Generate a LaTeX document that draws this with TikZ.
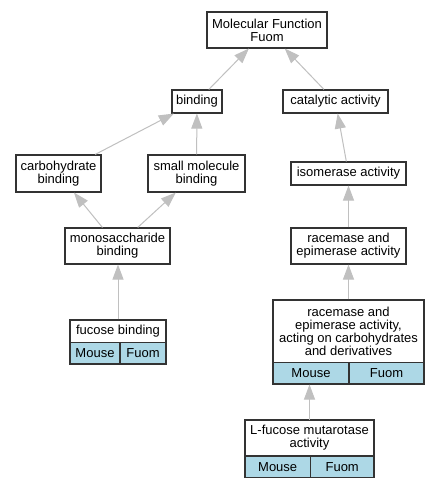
\documentclass[tikz,border=0pt]{standalone}
\usepackage{fontspec}
\setmainfont{Liberation Sans}
\usetikzlibrary{arrows.meta}
\definecolor{lblue}{HTML}{ADD8E6}
\definecolor{edgegray}{HTML}{C0C0C0}
\begin{document}
\begin{tikzpicture}[x=1pt,y=-1pt,
 box/.style={draw=black!80, line width=1.1pt, fill=white, inner sep=0pt, align=center, font=\fontsize{13}{13.2}\selectfont},
 cell/.style={box, fill=lblue},
 frame/.style={draw=black!80, line width=1.1pt, inner sep=0pt},
 edge/.style={draw=edgegray, line width=1pt, -{Triangle[length=15pt,width=11pt]}}]
\useasboundingbox[fill=white] (0,0) rectangle (439,488);
\node[box, minimum width=120pt, minimum height=36pt] (mf) at (267,30) {Molecular Function\\Fuom};
\node[box, minimum width=50pt, minimum height=23pt] (bind) at (197,101.5) {binding};
\node[box, minimum width=105pt, minimum height=23pt] (cat) at (335.5,101.5) {catalytic activity};
\node[box, minimum width=85pt, minimum height=37pt] (carb) at (58.5,173.5) {carbohydrate\\binding};
\node[box, minimum width=97pt, minimum height=37pt] (smb) at (196.5,173.5) {small molecule\\binding};
\node[box, minimum width=115pt, minimum height=23pt] (iso) at (348.5,173.5) {isomerase activity};
\node[box, minimum width=105pt, minimum height=36pt] (mono) at (117.5,246) {monosaccharide\\binding};
\node[box, minimum width=115pt, minimum height=36pt] (rac) at (348.5,246) {racemase and\\epimerase activity};
% fucose binding
\node[box, minimum width=96pt, minimum height=22.3pt] (fbt) at (118,331.2) {fucose binding};
\node[cell, minimum width=50pt, minimum height=21.7pt] (fbm) at (95,353.2) {Mouse};
\node[cell, minimum width=46pt, minimum height=21.7pt] (fbf) at (143,353.2) {Fuom};
\node[frame, minimum width=96pt, minimum height=44pt] (fb) at (118,342) {};
% racemase carbohydrates
\node[box, minimum width=151pt, minimum height=62.7pt] (rct) at (348.5,331.4) {racemase and\\epimerase activity,\\acting on carbohydrates\\and derivatives};
\node[cell, minimum width=76pt, minimum height=21.3pt] (rcm) at (311,373.3) {Mouse};
\node[cell, minimum width=75pt, minimum height=21.3pt] (rcf) at (386.5,373.3) {Fuom};
\node[frame, minimum width=151pt, minimum height=84pt] (rc) at (348.5,342) {};
% L-fucose mutarotase
\node[box, minimum width=129pt, minimum height=36pt] (lft) at (309.5,438) {L-fucose mutarotase\\activity};
\node[cell, minimum width=65.3pt, minimum height=21.3pt] (lfm) at (277.7,466.7) {Mouse};
\node[cell, minimum width=63.7pt, minimum height=21.3pt] (lff) at (342.2,466.7) {Fuom};
\node[frame, minimum width=129pt, minimum height=57.3pt] (lf) at (309.5,448.7) {};
% edges
\draw[edge] (bind) -- (mf);
\draw[edge] (cat) -- (mf);
\draw[edge] (carb) -- (bind);
\draw[edge] (smb) -- (bind);
\draw[edge] (iso) -- (cat);
\draw[edge] (mono) -- (carb);
\draw[edge] (mono) -- (smb);
\draw[edge] (rac) -- (iso);
\draw[edge] (fb.north) -- (fb.north |- mono.south);
\draw[edge] (rc.north) -- (rc.north |- rac.south);
\draw[edge] (lf.north) -- (lf.north |- rc.south);
\end{tikzpicture}
\end{document}
